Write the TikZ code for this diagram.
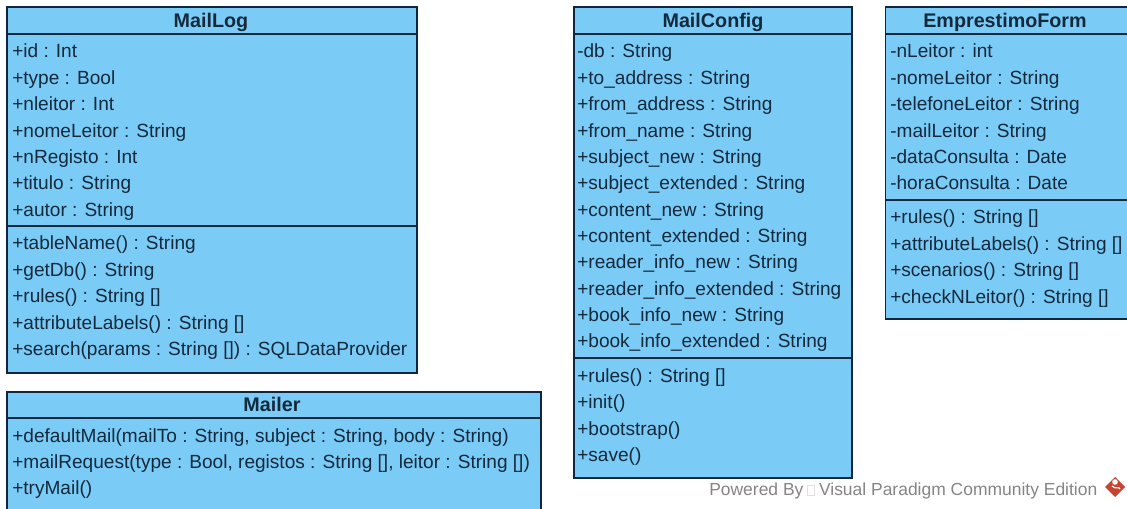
\documentclass[tikz,border=0pt]{standalone}
\usepackage{fontspec}
\setmainfont{Liberation Sans}
\definecolor{boxfill}{HTML}{7ACBF5}
\definecolor{boxline}{HTML}{10263C}
\definecolor{boxtext}{HTML}{15293D}
\definecolor{logored}{HTML}{C8432F}
\tikzset{
  x=0.75pt,y=-0.75pt,
  classbox/.style={draw=boxline,fill=boxfill,line width=1.1pt},
  sepline/.style={draw=boxline,line width=1.1pt},
  rowtext/.style={anchor=base west,inner sep=0pt,text=boxtext,font=\fontsize{14.3}{16}\selectfont},
  titletext/.style={anchor=base,inner sep=0pt,text=boxtext,font=\fontsize{14.8}{16}\selectfont\bfseries},
  footnote/.style={anchor=base west,inner sep=0pt,text=black!48,font=\fontsize{13.1}{15}\selectfont}
}
\newcommand{\rowlist}[4]{% prefix, x, first baseline, list
  \foreach \t [count=\i from 0] in {#4} {
    \node[rowtext] (#1-\i) at (#2,#3+26.35*\i) {\t};
  }
}
\begin{document}
\begin{tikzpicture}
\useasboundingbox (0,0) rectangle (1127,509);
\clip (0,0) rectangle (1127,509);
\fill[white] (0,0) rectangle (1127,509);
% MailLog
\draw[classbox] (7,7) rectangle (417,373);
\draw[sepline] (7,34) -- (417,34);
\draw[sepline] (7,226) -- (417,226);
\node[titletext] (maillog) at (211,27.5) {MailLog};
\rowlist{ml}{12}{58}{{+id : Int},{+type : Bool},{+nleitor : Int},{+nomeLeitor : String},{+nRegisto : Int},{+titulo : String},{+autor : String}}
\rowlist{mm}{12}{250}{{+tableName() : String},{+getDb() : String},{+rules() : String []},{+attributeLabels() : String []},{+search(params : String []) : SQLDataProvider}}
% Mailer
\draw[classbox] (7,392) rectangle (541,520);
\draw[sepline] (7,418) -- (541,418);
\node[titletext] (mailer) at (272,411.5) {Mailer};
\rowlist{mr}{12}{442}{{+defaultMail(mailTo : String, subject : String, body : String)},{+mailRequest(type : Bool, registos : String [], leitor : String [])},{+tryMail()}}
% MailConfig
\draw[classbox] (574,7) rectangle (852,478);
\draw[sepline] (574,34) -- (852,34);
\draw[sepline] (574,358) -- (852,358);
\node[titletext] (mailconfig) at (713,27.5) {MailConfig};
\rowlist{mc}{577}{58}{{-db : String},{+to\_address : String},{+from\_address : String},{+from\_name : String},{+subject\_new : String},{+subject\_extended : String},{+content\_new : String},{+content\_extended : String},{+reader\_info\_new : String},{+reader\_info\_extended : String},{+book\_info\_new : String},{+book\_info\_extended : String}}
\rowlist{mo}{577}{382.5}{{+rules() : String []},{+init()},{+bootstrap()},{+save()}}
% EmprestimoForm
\draw[classbox] (885.5,7) rectangle (1140,319);
\draw[sepline] (885.5,34) -- (1140,34);
\draw[sepline] (885.5,200) -- (1140,200);
\node[titletext] (emprestimo) at (1005,27.5) {EmprestimoForm};
\rowlist{ef}{890}{58}{{-nLeitor : int},{-nomeLeitor : String},{-telefoneLeitor : String},{-mailLeitor : String},{-dataConsulta : Date},{-horaConsulta : Date}}
\rowlist{eo}{890}{224}{{+rules() : String []},{+attributeLabels() : String []},{+scenarios() : String []},{+checkNLeitor() : String []}}
% footer
\node[footnote] (powered) at (709,495) {Powered By\hspace{11.7pt}Visual Paradigm Community Edition};
\draw[black!12,line width=0.4pt] (807,485) rectangle (814,495);
\fill[logored] (1115,477) -- (1125,487) -- (1115,497) -- (1105,487) -- cycle;
\fill[white] (1115,482) circle[radius=2.8];
\draw[white,line width=0.9pt] (1112,486) .. controls (1116,490) and (1119,486) .. (1120,489);
\end{tikzpicture}
\end{document}
